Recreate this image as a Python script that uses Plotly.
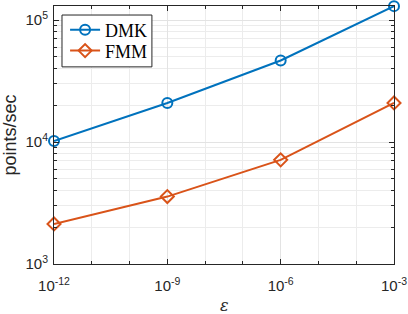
import plotly.graph_objects as go

eps = [1e-12, 1e-9, 1e-6, 1e-3]
dmk = [1.02e4, 2.09e4, 4.66e4, 1.30e5]
fmm = [2.13e3, 3.57e3, 7.14e3, 2.09e4]

x_ticks = [1e-12, 1e-9, 1e-6, 1e-3]
x_ticktext = ["10<sup>-12</sup>", "10<sup>-9</sup>", "10<sup>-6</sup>", "10<sup>-3</sup>"]
x_minor = [1e-11, 1e-10, 1e-8, 1e-7, 1e-5, 1e-4]
y_ticks = [1e3, 1e4, 1e5]
y_ticktext = ["10<sup>3</sup>", "10<sup>4</sup>", "10<sup>5</sup>"]
y_minor = [m * 10 ** k for k in (3, 4) for m in range(2, 10)]

blue = "#0072BD"
orange = "#D95319"
axcol = "#262626"

fig = go.Figure()
fig.add_trace(go.Scatter(
    x=eps, y=dmk, name="DMK", mode="lines+markers",
    line=dict(color=blue, width=2),
    marker=dict(symbol="circle-open", size=10, color=blue, line=dict(width=2)),
    cliponaxis=False, legend="legend",
))
fig.add_trace(go.Scatter(
    x=eps, y=fmm, name="FMM", mode="lines+markers",
    line=dict(color=orange, width=2),
    marker=dict(symbol="diamond-open", size=10, color=orange, line=dict(width=2)),
    cliponaxis=False, legend="legend2",
))

tickfont = dict(family="Liberation Sans, Arial, sans-serif", size=15, color=axcol)
legfont = dict(family="Liberation Serif, DejaVu Serif, serif", size=18, color="black")

# legend frame (white box with dark border)
fig.add_shape(type="rect", xref="paper", yref="paper",
              x0=0.0235, x1=0.288, y0=0.764, y1=0.965,
              fillcolor="white", line=dict(color=axcol, width=1), layer="above")

# x-axis title as annotation (kept below tick labels)
fig.add_annotation(text="<i>ε</i>", xref="paper", yref="paper", x=0.5, y=-0.16,
                   xanchor="center", yanchor="middle", showarrow=False,
                   font=dict(family="DejaVu Serif, serif", size=16, color=axcol))

fig.update_layout(
    width=408, height=314,
    margin=dict(l=54, r=14, t=6, b=50),
    paper_bgcolor="white", plot_bgcolor="white",
    showlegend=True,
    legend=dict(x=0.0326, y=0.907, xanchor="left", yanchor="middle",
                bgcolor="rgba(0,0,0,0)", borderwidth=0, font=legfont, itemwidth=30),
    legend2=dict(x=0.0326, y=0.826, xanchor="left", yanchor="middle",
                 bgcolor="rgba(0,0,0,0)", borderwidth=0, font=legfont, itemwidth=30),
    xaxis=dict(
        type="log", range=[-12.0001, -2.9999], automargin=False,
        tickmode="array", tickvals=x_ticks, ticktext=x_ticktext,
        tickfont=tickfont, ticklabelstandoff=8,
        showline=True, linecolor=axcol, linewidth=1, mirror="ticks",
        ticks="inside", ticklen=5, tickcolor=axcol,
        showgrid=True, gridcolor="#e3e3e3", gridwidth=1,
        zeroline=False,
        minor=dict(tickmode="array", tickvals=x_minor, ticks="inside", ticklen=3,
                   tickcolor=axcol, showgrid=True, gridcolor="#ececec", gridwidth=1),
    ),
    yaxis=dict(
        type="log", range=[3, 5.115], automargin=False,
        tickmode="array", tickvals=y_ticks, ticktext=y_ticktext,
        tickfont=tickfont, ticklabelstandoff=2,
        showline=True, linecolor=axcol, linewidth=1, mirror="ticks",
        ticks="inside", ticklen=5, tickcolor=axcol,
        showgrid=True, gridcolor="#e3e3e3", gridwidth=1,
        zeroline=False,
        minor=dict(tickmode="array", tickvals=y_minor, ticks="inside", ticklen=3,
                   tickcolor=axcol, showgrid=True, gridcolor="#ececec", gridwidth=1),
        title=dict(text="points/sec", font=dict(family="Liberation Sans, Arial, sans-serif", size=18, color=axcol),
                   standoff=7),
    ),
)

fig.write_html("out.html", config={"displayModeBar": False},
               post_script="document.body.style.margin='0';")
